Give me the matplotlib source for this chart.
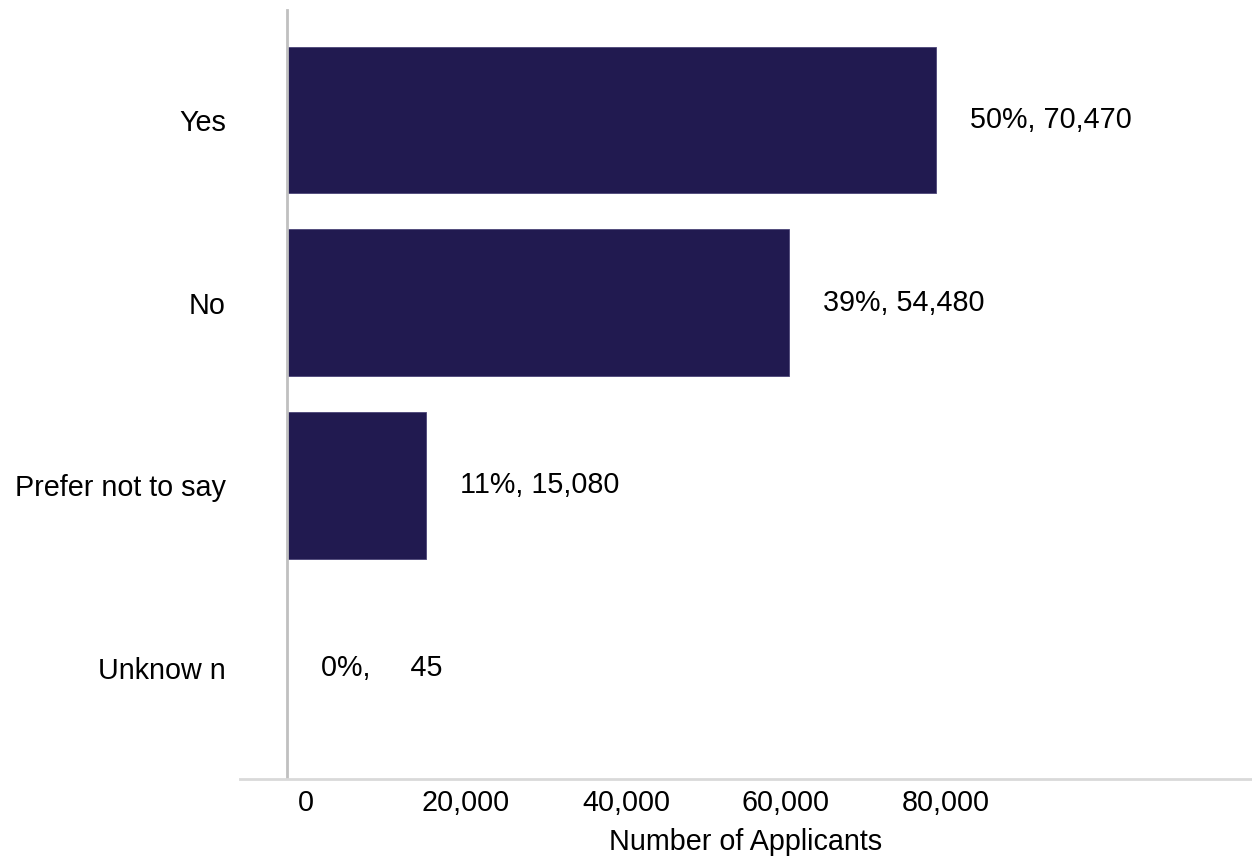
import matplotlib
matplotlib.use("Agg")
import matplotlib.pyplot as plt

# applicants by answer
categories = ["Yes", "No", "Prefer not to say", "Unknow n"]
counts = [70470, 54480, 15080, 45]
percents = [50, 39, 11, 0]
tick_values = [0, 20000, 40000, 60000, 80000]

bar_color = "#211a50"
plt.rcParams["font.family"] = ["Liberation Sans", "DejaVu Sans"]
plt.rcParams["font.size"] = 20.7

W, H = 1252, 858
fig = plt.figure(figsize=(W / 100, H / 100), dpi=100)

# bar area: left spine at x=287px, top 10px, bottom 778px
ax = fig.add_axes([287 / W, (H - 778) / H, (W - 287) / W, 768 / H])
pos = list(range(len(categories)))
ax.barh(pos, counts, height=0.8, color=bar_color, edgecolor="#4b4578", linewidth=0.6)
ax.set_xlim(0, 104800)
ax.set_ylim(3.6, -0.6)
ax.set_yticks(pos)
ax.set_yticklabels(categories)
ax.tick_params(axis="y", length=0, pad=44, colors="black")
ax.set_xticks([])
for s in ["top", "right", "bottom"]:
    ax.spines[s].set_visible(False)
ax.spines["left"].set_color("#c0c0c0")
ax.spines["left"].set_linewidth(2)

# "pct%, count" labels, count padded to six characters
for i, (c, p) in enumerate(zip(counts, percents)):
    ax.annotate(f"{p}%, {c:>6,}", xy=(c, i), xytext=(24.5, 0),
                textcoords="offset points", ha="left", va="center")

# value axis along the bottom
axb = fig.add_axes([240 / W, (H - 779) / H, (W - 240) / W, 0.001])
axb.set_xlim(-8250, 118250)
axb.set_xticks(tick_values)
axb.set_xticklabels([f"{v:,}" for v in tick_values])
axb.set_yticks([])
for s in ["top", "right", "left"]:
    axb.spines[s].set_visible(False)
axb.spines["bottom"].set_color("#d9d9d9")
axb.spines["bottom"].set_linewidth(2)
axb.tick_params(axis="x", length=0, pad=7)
axb.set_xlabel("Number of Applicants", labelpad=8)
axb.patch.set_visible(False)

fig.savefig("out.png", dpi=100, facecolor="white")
